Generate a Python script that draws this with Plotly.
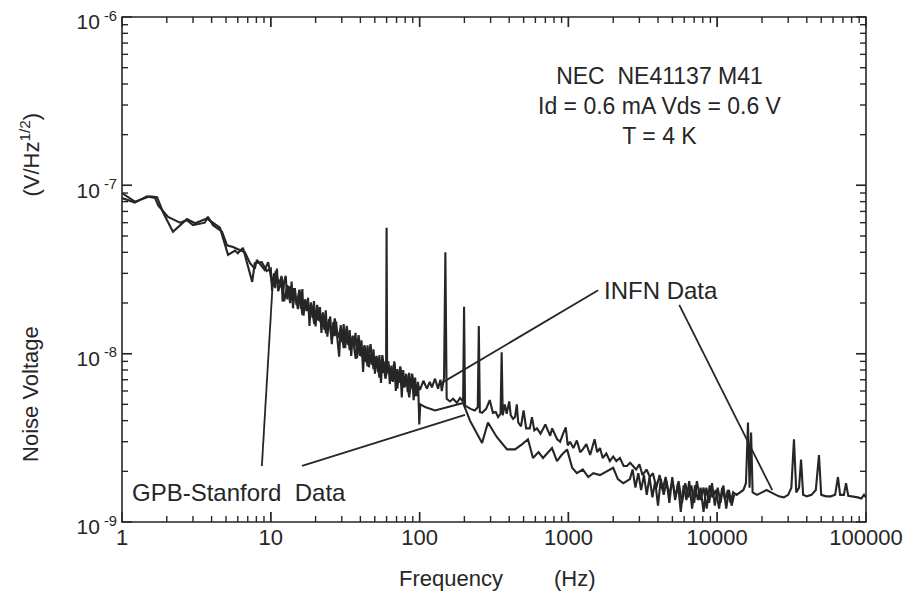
import numpy as np
import plotly.graph_objects as go

# ---- data (noise voltage in nV/Hz^1/2, frequency in Hz) ----
# GPB-Stanford measurement
gpb_freq_low = [1.0, 1.22, 1.43, 1.54, 1.72, 1.89, 2.2, 2.73, 3.1, 3.72, 4.55, 5.16, 5.75, 6.0, 6.5, 7.5, 7.8, 8.7, 9.4]
gpb_nv_low = [90, 80, 84, 86, 85, 69, 53, 63, 59.5, 63.5, 56, 38.6, 41, 39.5, 42.5, 26.7, 34.5, 35, 31]

gpb_freq_mid = [10.0, 10.2, 10.5, 10.7, 11.0, 11.2, 11.5, 11.8, 12.0, 12.3,
                12.6, 12.9, 13.2, 13.5, 13.8, 14.1, 14.5, 14.8, 15.2, 15.5,
                15.9, 16.3, 16.6, 17.0, 17.4, 17.8, 18.2, 18.6, 19.1, 19.5,
                20.0, 20.4, 20.9, 21.4, 21.9, 22.4, 22.9, 23.4, 24.0, 24.5,
                25.1, 25.7, 26.3, 26.9, 27.5, 28.1, 28.8, 29.5, 30.2, 30.9,
                31.6, 32.3, 33.1, 33.9, 34.7, 35.5, 36.3, 37.1, 38.0, 38.9,
                39.8, 40.7, 41.7, 42.7, 43.7, 44.7, 45.7, 46.8, 47.9, 49.0,
                50.1, 51.3, 52.5, 53.7, 55.0, 56.2, 57.5, 58.9, 59.5, 60.0,
                60.5, 61.7, 63.1, 64.6, 66.1, 67.6, 69.2, 70.8, 72.4, 74.1,
                75.9, 77.6, 79.4, 81.3, 83.2, 85.1, 87.1, 89.1, 91.2, 93.3,
                95.5, 97.7, 99.5]
gpb_nv_mid = [32, 23.6, 30, 24.5, 32, 23.5, 25, 29, 20.4, 27,
              29, 21, 25.2, 21.7, 26.8, 18.6, 24.5, 21.2, 18.4, 23.8,
              18.5, 24.2, 16.8, 20.7, 17.9, 21.5, 14.6, 20.2, 16.3, 20.5,
              14.5, 18.1, 15.7, 18.9, 13.3, 17.6, 13.9, 18.1, 12.6, 15.2,
              16.6, 11.4, 15.4, 12.7, 15.5, 11.9, 9.6, 14.8, 11.7, 15,
              10.8, 13.1, 11.3, 13.8, 9.7, 12.8, 11.2, 13.3, 9.4, 11.8,
              9.7, 12, 7.8, 11, 8.9, 11.2, 8.3, 9.9, 8.6, 10.6,
              7.6, 9.7, 7.8, 9.8, 6.7, 9.0, 7.7, 9.0, 7.5, 56,
              7.7, 9.0, 6.6, 8.5, 6.8, 8.8, 6.0, 8.1, 6.7, 8.3,
              5.5, 8.0, 6.3, 7.6, 5.9, 7.7, 6.2, 7.4, 5.3, 7.2,
              5.6, 6.8, 3.8]

gpb_freq_high = [101, 110, 127, 150, 175, 196, 218, 263, 288, 330, 387, 438, 490, 535, 578,
                 630, 675, 730, 776, 838, 900, 980, 1060, 1140, 1250, 1360, 1470, 1630, 1820, 2000,
                 2150, 2340, 2590]
gpb_nv_high = [5.0, 4.8, 4.6, 4.8, 5.0, 5.1, 4.0, 2.95, 3.9, 3.2, 2.7, 2.7, 2.9, 3.1, 2.4,
               2.6, 2.4, 2.6, 2.75, 2.3, 2.5, 2.7, 2.1, 1.95, 2.05, 1.85, 1.95, 1.9, 2.0, 2.1,
               1.8, 1.7, 1.8]

gpb_freq_top = [2700, 2820, 2950, 3080, 3220, 3360, 3510, 3670, 3830, 4000, 4180, 4370, 4570,
                4770, 4990, 5210, 5450, 5690, 5950, 6210, 6490, 6780, 7090, 7410, 7740, 8090,
                8450, 8830, 9230, 9640, 10080, 10530, 11000, 11500, 12000, 12500, 13000]
gpb_nv_top = [2.05, 1.6, 1.95, 1.55, 1.9, 1.45, 1.85, 1.4, 1.75, 1.25, 1.8, 1.45, 1.75,
              1.3, 1.85, 1.35, 1.7, 1.15, 1.65, 1.35, 1.75, 1.2, 1.65, 1.35, 1.6, 1.15,
              1.6, 1.3, 1.7, 1.25, 1.6, 1.3, 1.65, 1.2, 1.55, 1.25, 1.45]

# INFN measurement
infn_freq_low = [1.0, 1.22, 1.47, 1.67, 1.75, 2.04, 2.45, 2.73, 3.0, 3.6, 3.78, 4.09, 4.7, 5.08,
                 5.57, 6.2, 6.7, 7.25, 7.8, 8.06, 8.4, 9.1, 9.6]
infn_nv_low = [84, 79, 86, 84, 76, 65, 60, 62, 58, 60, 65, 58, 53, 44, 43, 41, 40, 34.5, 32, 36, 34.5, 31.4, 35]

infn_freq_mid = [10.3, 10.8, 11.3, 11.8, 12.3, 12.9, 13.5, 14.2, 14.9, 15.6, 16.3, 17.0, 17.8, 18.7,
                 19.6, 20.5, 21.4, 22.4, 23.5, 24.6, 25.7, 26.9, 28.2, 29.5, 30.9, 32.4, 33.9, 35.5,
                 37.2, 38.9, 40.7, 42.7, 44.7, 46.8, 49.0, 51.3, 53.7, 56.2, 58.9, 61.7, 64.6, 67.6,
                 70.8, 74.1, 77.6, 81.3, 85.1, 89.1, 93.3, 97.7]
infn_nv_mid = [25, 31, 26, 28.5, 20.5, 25.5, 20, 24.5, 19.5, 24, 17, 21, 18.5, 19.5,
               15, 19.5, 15.5, 17.2, 13.2, 16, 12, 16.2, 12.4, 14.2, 10.8, 14.6, 10.5, 12.6,
               9.3, 12.9, 9.6, 11.2, 8.4, 11.4, 8.1, 9.6, 7.2, 9.8, 7.1, 8.6, 6.9, 9.0,
               6.2, 8.4, 6.3, 7.5, 5.5, 7.6, 5.6, 6.5]

infn_freq_high = [100.6, 106, 112, 117, 121, 127, 133, 138, 141, 146, 149, 152, 160, 168, 178,
                  187, 196, 199, 202, 208, 220, 235, 246, 250, 254, 263, 280, 296, 311, 325,
                  337, 350, 356, 362, 374, 385, 400, 410, 425, 438, 450, 460, 480, 500, 520,
                  550, 569, 590, 614, 650, 700, 754, 778, 840, 880, 923, 960, 990, 1025, 1080,
                  1140, 1200, 1250, 1320, 1400, 1500, 1560, 1630, 1700, 1800, 1900, 2000, 2100, 2220, 2350,
                  2470, 2600, 2850, 3000, 3150, 3350, 3530]
infn_nv_high = [6.1, 6.9, 6.2, 6.8, 6.3, 7.1, 6.2, 7.0, 6.0, 7.2, 40, 5.4, 5.2, 5.4, 5.1,
                5.45, 5.2, 19, 4.9, 4.85, 4.7, 4.6, 4.8, 14.6, 4.5, 4.45, 4.7, 5.3, 4.45, 4.5,
                4.2, 4.4, 10.2, 4.3, 5.0, 4.4, 5.2, 4.3, 4.1, 4.2, 5.0, 3.9, 3.7, 4.6, 3.6,
                3.6, 4.2, 3.5, 3.6, 3.35, 3.8, 3.25, 3.6, 3.1, 3.0, 3.36, 3.65, 2.85, 3.0, 2.75,
                3.05, 2.6, 2.7, 2.9, 2.5, 3.1, 2.6, 2.75, 2.4, 2.55, 2.3, 2.45, 2.3, 2.4, 2.15,
                2.15, 2.25, 2.05, 2.2, 1.9, 2.05, 1.85]

infn_freq_top = [3700, 3900, 4100, 4300, 4500, 4750, 5000, 5250, 5500, 5800, 6100, 6400, 6700, 7000,
                 7300, 7700, 8100, 8500, 8900, 9300, 9800, 10300, 10800, 11300, 11800, 12300, 12800,
                 13500, 14200, 15000, 15600, 16100, 16500, 16900, 17300, 18500, 20000, 21500, 23000,
                 24500, 26000, 28000, 30000, 31500, 32800, 34000, 35500, 36600, 37800, 40000, 43000,
                 46000, 48300, 50000, 54000, 58000, 62000, 64800, 67000, 71000, 73400, 76000, 82000,
                 88000, 93000, 97000, 100000]
infn_nv_top = [1.95, 1.6, 1.9, 1.55, 1.85, 1.45, 1.75, 1.4, 1.75, 1.3, 1.7, 1.4, 1.65, 1.3,
               1.75, 1.35, 1.6, 1.2, 1.65, 1.4, 1.55, 1.2, 1.6, 1.35, 1.55, 1.3, 1.5,
               1.45, 1.5, 1.55, 1.7, 3.9, 1.6, 3.4, 1.5, 1.45, 1.5, 1.55, 1.5,
               1.45, 1.42, 1.4, 1.45, 1.6, 3.1, 1.5, 1.6, 2.35, 1.45, 1.42, 1.45,
               1.55, 2.5, 1.45, 1.42, 1.42, 1.45, 1.85, 1.45, 1.45, 1.7, 1.43, 1.42,
               1.4, 1.38, 1.45, 1.4]

x_major = [1, 10, 100, 1000, 10000, 100000]
x_major_text = ["1", "10", "100", "1000", "10000", "100000"]
y_major = [1e-9, 1e-8, 1e-7, 1e-6]
y_major_text = ["10<sup> -9</sup>", "10<sup> -8</sup>", "10<sup> -7</sup>", "10<sup> -6</sup>"]

gpb_f = gpb_freq_low + gpb_freq_mid + gpb_freq_high + gpb_freq_top
gpb_v = np.array(gpb_nv_low + gpb_nv_mid + gpb_nv_high + gpb_nv_top) * 1e-9
infn_f = infn_freq_low + infn_freq_mid + infn_freq_high + infn_freq_top
infn_v = np.array(infn_nv_low + infn_nv_mid + infn_nv_high + infn_nv_top) * 1e-9

ink = "#262626"

fig = go.Figure()
fig.add_trace(go.Scatter(x=gpb_f, y=gpb_v, mode="lines", name="GPB-Stanford Data",
                         line=dict(color=ink, width=2.1)))
fig.add_trace(go.Scatter(x=infn_f, y=infn_v, mode="lines", name="INFN Data",
                         line=dict(color=ink, width=2.1)))

axis_common = dict(showline=False, ticks="", showgrid=False, zeroline=False, tickmode="array",
                   ticklabeloverflow="allow")
fig.update_xaxes(type="log", range=[0, 5], tickvals=x_major, ticktext=x_major_text,
                 tickfont=dict(size=22, color=ink), **axis_common)
# y labels sit a few pixels below their decade tick, as in the original
fig.update_yaxes(type="log", range=[-9, -6], tickvals=y_major, ticktext=y_major_text,
                 tickfont=dict(size=21, color=ink), ticklabelshift=5, ticklabelstandoff=4,
                 **axis_common)

# frame and inside ticks (majors at decades, minors at 2..9) drawn as paper-anchored shapes
shapes = [dict(type="rect", xref="paper", yref="paper", x0=0, y0=0, x1=1, y1=1,
               line=dict(color=ink, width=1.6))]
tick_line = dict(color=ink, width=1.4)
for d in range(5):
    for m in range(1, 11):
        xp = (d + np.log10(m)) / 5
        ln = 10 if m in (1, 10) else 6
        shapes.append(dict(type="line", xref="paper", yref="paper", ysizemode="pixel", yanchor=0,
                           x0=xp, x1=xp, y0=0, y1=ln, line=tick_line))
        shapes.append(dict(type="line", xref="paper", yref="paper", ysizemode="pixel", yanchor=1,
                           x0=xp, x1=xp, y0=0, y1=-ln, line=tick_line))
for d in range(3):
    for m in range(1, 11):
        yp = (d + np.log10(m)) / 3
        ln = 10 if m in (1, 10) else 6
        shapes.append(dict(type="line", xref="paper", yref="paper", xsizemode="pixel", xanchor=0,
                           y0=yp, y1=yp, x0=0, x1=ln, line=tick_line))
        shapes.append(dict(type="line", xref="paper", yref="paper", xsizemode="pixel", xanchor=1,
                           y0=yp, y1=yp, x0=0, x1=-ln, line=tick_line))

# leader lines from labels to curves
leaders = [(0.640, 0.459, 0.427, 0.273), (0.749, 0.430, 0.874, 0.063),
           (0.188, 0.111, 0.202, 0.459), (0.242, 0.111, 0.461, 0.212)]
for a, b, c, d in leaders:
    shapes.append(dict(type="line", xref="paper", yref="paper", x0=a, y0=b, x1=c, y1=d,
                       line=dict(color=ink, width=1.8)))

txt = dict(family="Liberation Sans, Arial, sans-serif", color=ink)
annotations = [
    dict(x=0.723, y=0.824, text="NEC  NE41137 M41<br>Id = 0.6 mA Vds = 0.6 V<br>T = 4 K",
         font=dict(size=23, **txt), xanchor="center", yanchor="middle"),
    dict(x=0.645, y=0.459, text="INFN Data", font=dict(size=24, **txt), xanchor="left", yanchor="middle"),
    dict(x=0.011, y=0.059, text="GPB-Stanford  Data", font=dict(size=24, **txt), xanchor="left", yanchor="middle"),
    dict(x=0.442, y=-0.111, text="Frequency", font=dict(size=22, **txt), xanchor="center", yanchor="middle"),
    dict(x=0.609, y=-0.111, text="(Hz)", font=dict(size=22, **txt), xanchor="center", yanchor="middle"),
    dict(x=-0.124, y=0.253, text="Noise Voltage", textangle=-90, font=dict(size=22, **txt),
         xanchor="center", yanchor="middle"),
    dict(x=-0.124, y=0.727, text="(V/Hz<sup>1/2</sup>)", textangle=-90, font=dict(size=22, **txt),
         xanchor="center", yanchor="middle"),
]
for a in annotations:
    a.update(xref="paper", yref="paper", showarrow=False)

# page body adds an 8px offset, so the figure is 8px smaller than the window
fig.update_layout(width=916, height=590, margin=dict(l=114, r=58, t=9, b=76, autoexpand=False),
                  paper_bgcolor="white", plot_bgcolor="white", showlegend=False,
                  font=dict(family="Liberation Sans, Arial, sans-serif", color=ink),
                  annotations=annotations, shapes=shapes)

fig.write_html("out.html")
